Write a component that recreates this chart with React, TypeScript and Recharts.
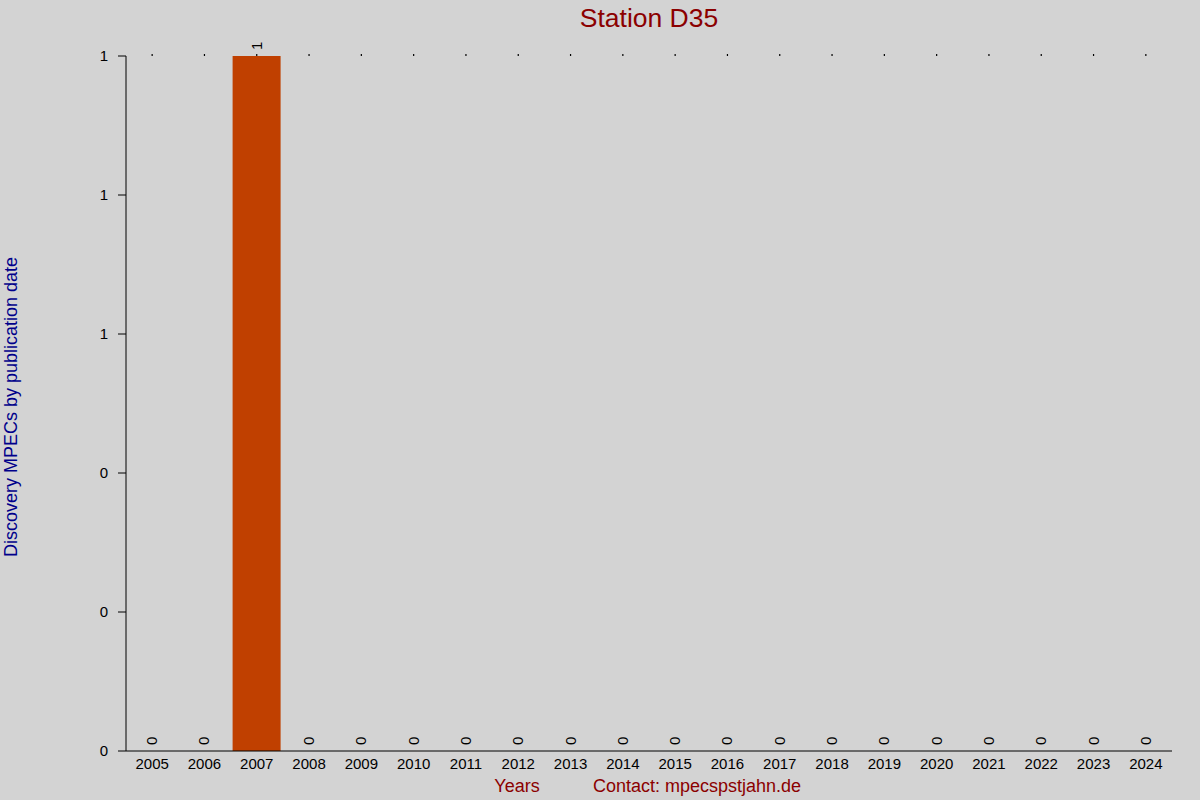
import { Bar, ComposedChart, LabelList, Line, XAxis, YAxis } from 'recharts'

const years = [
  '2005', '2006', '2007', '2008', '2009', '2010', '2011', '2012', '2013', '2014',
  '2015', '2016', '2017', '2018', '2019', '2020', '2021', '2022', '2023', '2024',
]
const mpecs = [0, 0, 1, 0, 0, 0, 0, 0, 0, 0, 0, 0, 0, 0, 0, 0, 0, 0, 0, 0]
const yTicks = [0, 0.2, 0.4, 0.6, 0.8, 1]

const data = years.map((year, i) => ({ year, mpecs: mpecs[i] }))

const font = 'Liberation Sans, Arial, sans-serif'

// rotated value label sitting just above each bar
const ValueLabel = (props: any) => {
  const { x, y, width, value } = props
  const cx = x + (width || 0) / 2 + 5
  const cy = y - 6
  return (
    <text
      x={cx}
      y={cy}
      transform={`rotate(-90 ${cx} ${cy})`}
      textAnchor="start"
      fontSize={15}
      fontFamily={font}
      fill="#000"
    >
      {value}
    </text>
  )
}

export default function App() {
  return (
    <div
      style={{
        position: 'absolute',
        left: 0,
        top: 0,
        width: 1200,
        height: 800,
        background: '#d3d3d3',
        fontFamily: font,
      }}
    >
      <ComposedChart
        width={1200}
        height={800}
        data={data}
        margin={{ top: 55, right: 28, bottom: 19, left: 0 }}
        barSize={48}
      >
        <text x={649} y={27} textAnchor="middle" fontSize={26.5} fill="#8b0000" fontFamily={font}>
          Station D35
        </text>
        <text
          x={17}
          y={407}
          transform="rotate(-90 17 407)"
          textAnchor="middle"
          fontSize={18}
          fill="#00008b"
          fontFamily={font}
        >
          Discovery MPECs by publication date
        </text>
        <text x={517} y={792} textAnchor="middle" fontSize={18} fill="#8b0000" fontFamily={font}>
          Years
        </text>
        <text x={697} y={792} textAnchor="middle" fontSize={18} fill="#8b0000" fontFamily={font}>
          Contact: mpecspstjahn.de
        </text>
        <XAxis
          dataKey="year"
          tickLine={false}
          axisLine={{ stroke: '#000' }}
          tick={{ fill: '#000', fontSize: 15, fontFamily: font }}
          tickMargin={1}
          interval={0}
        />
        {/* tiny marks along the top edge, one per year */}
        <XAxis
          xAxisId="top"
          orientation="top"
          dataKey="year"
          height={1}
          axisLine={false}
          tickLine={{ stroke: '#000', strokeWidth: 1.2 }}
          tickSize={2}
          tick={{ fill: 'none', fontSize: 1 }}
          interval={0}
        />
        <YAxis
          width={126}
          domain={[0, 1]}
          ticks={yTicks}
          tickFormatter={(v: number) => String(Math.round(v))}
          tickSize={8}
          tickMargin={10}
          axisLine={{ stroke: '#000' }}
          tickLine={{ stroke: '#000' }}
          tick={{ fill: '#000', fontSize: 15, fontFamily: font }}
        />
        <Bar dataKey="mpecs" fill="#c04000" isAnimationActive={false} />
        <Line
          xAxisId="top"
          dataKey="mpecs"
          stroke="none"
          dot={false}
          activeDot={false}
          isAnimationActive={false}
        >
          <LabelList dataKey="mpecs" content={<ValueLabel />} />
        </Line>
      </ComposedChart>
    </div>
  )
}
